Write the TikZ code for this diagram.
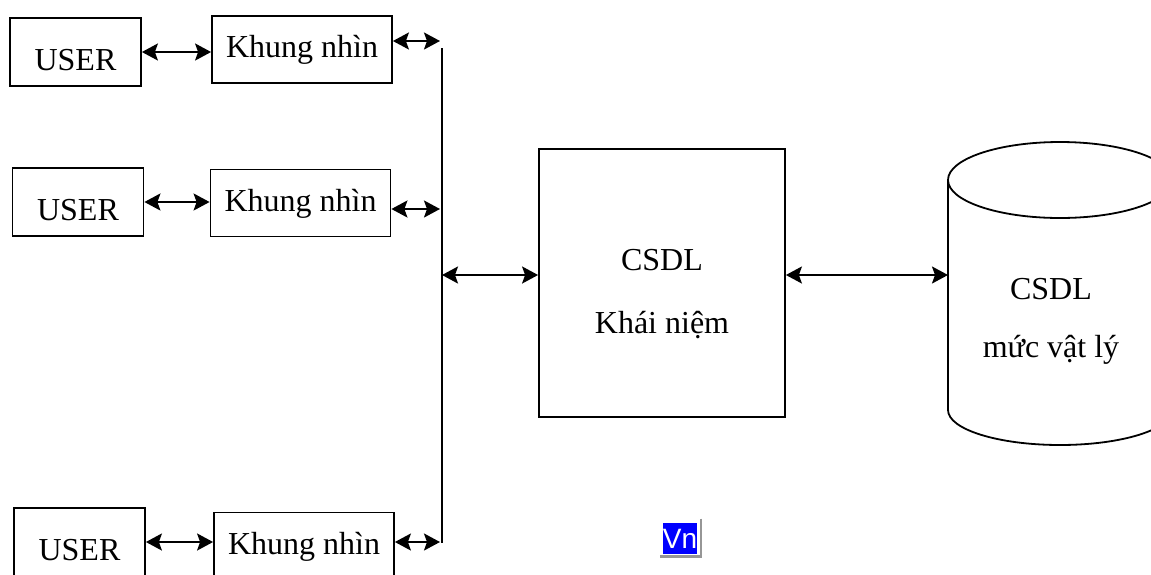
\documentclass[tikz,border=0pt]{standalone}
\usepackage{fontspec}
\setmainfont{Liberation Serif}
\setsansfont{Liberation Sans}
\usetikzlibrary{arrows.meta, positioning, calc}
\definecolor{vnblue}{RGB}{0,0,255}
\definecolor{vnshade}{RGB}{150,150,150}

\begin{document}
\begin{tikzpicture}[x=0.5pt, y=-0.5pt,
  box/.style={draw, line width=0.9pt, inner sep=0pt, font=\fontsize{16}{19}\selectfont},
  userbox/.style={box, minimum width=65.5pt, minimum height=34pt, text height=18pt, text depth=0pt},
  viewbox/.style={box, minimum width=90pt, minimum height=33.5pt, text height=11pt, text depth=3pt},
  lbl/.style={align=center, inner sep=0pt, font=\fontsize{16}{19}\selectfont},
  link/.style={line width=1pt, {Stealth[length=8pt,width=8.5pt,inset=1.5pt]}-{Stealth[length=8pt,width=8.5pt,inset=1.5pt]}}]
\useasboundingbox (0,0) rectangle (1151,574);
\clip (0,0) rectangle (1151,574);
% Users and views -- [row, user centre, view centre, bus arrow y]
\foreach \i/\ux/\uy/\kx/\ky/\by in {1/75.5/52/302/49.5/41,
                                    2/78/202/300.5/203/209,
                                    3/79.5/542/304/546/542} {
  \node[userbox] (u\i) at (\ux,\uy) {USER};
  \node[viewbox] (k\i) at (\kx,\ky) {Khung nhìn};
  \coordinate (b\i) at (440,\by);
  \draw[link] (u\i.east) -- (u\i.east -| k\i.west);
  \draw[link] (k\i.east |- b\i) -- (b\i);
}
% Bus
\coordinate (bustop) at (442,48);
\coordinate (busbot) at (442,543);
\coordinate (bm) at (442,275);
\draw[line width=1pt] (bustop) -- (busbot);
% Conceptual level
\node[box, minimum width=123pt, minimum height=134pt] (csdl) at (662,283) {};
\node[lbl] (csdltxt) at (662,294) {CSDL\\[12.5pt]Khái niệm};
\draw[link] (bm) -- (bm -| csdl.west);
% Physical level (cylinder)
\coordinate (disk) at (948,275);
\draw[line width=0.9pt] (1060,180) ellipse [x radius=112, y radius=38];
\draw[line width=0.9pt] (948,180) -- (948,410)
  arc[start angle=180, end angle=0, x radius=112, y radius=35] -- (1172,180);
\node[lbl] (disktxt) at (1051,321) {CSDL\\[10pt]mức vật lý};
\draw[link] (csdl.east |- bm) -- (disk);
% Vn tray icon
\node[fill=vnblue, text=white, inner sep=0pt, minimum width=17pt, minimum height=15.5pt,
      font=\sffamily\fontsize{14}{14}\selectfont] (vn) at (680,538.5) {Vn};
\draw[vnshade, line width=1.2pt] ([xshift=1.8pt,yshift=2pt]vn.north east)
  -- ([xshift=1.8pt,yshift=-1pt]vn.south east) -- ([xshift=-1pt,yshift=-1pt]vn.south west);
\end{tikzpicture}
\end{document}
